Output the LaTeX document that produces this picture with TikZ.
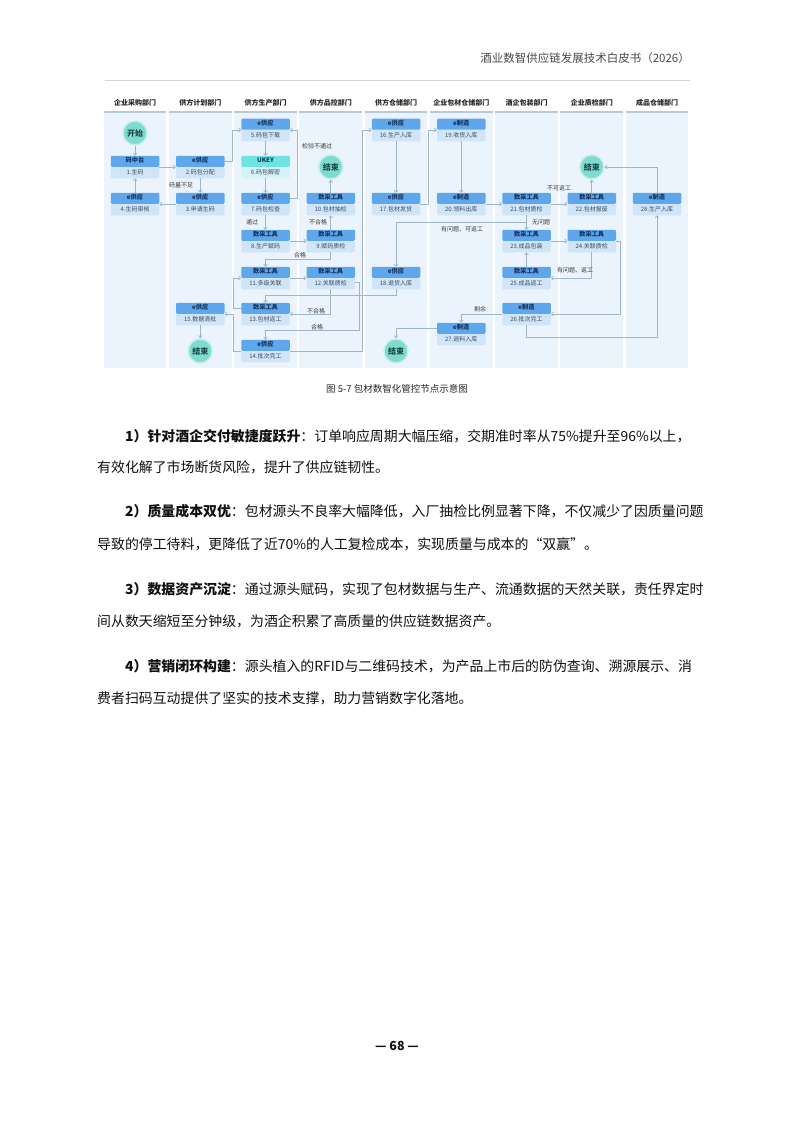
\documentclass[tikz,border=0pt]{standalone}
\usepackage{fontspec}
\setmainfont{Noto Sans CJK SC}
\usetikzlibrary{arrows.meta,calc}
\definecolor{hdblue}{HTML}{5EA7EC}
\definecolor{hdtext}{HTML}{16335C}
\definecolor{bdblue}{HTML}{D1E5F8}
\definecolor{bdtext}{HTML}{3A4B60}
\definecolor{ukhd}{HTML}{6FE3E3}
\definecolor{ukbd}{HTML}{D5F2F5}
\definecolor{lanefill}{HTML}{EBF4FC}
\definecolor{laneline}{HTML}{B7CAD5}
\definecolor{termfill}{HTML}{7FDBD0}
\definecolor{termring}{HTML}{C6EFEA}
\definecolor{termtext}{HTML}{1C4A48}
\definecolor{conc}{HTML}{9FB5CA}
\definecolor{lbltext}{HTML}{3A3A3A}
\definecolor{hdrtext}{HTML}{4A4A4A}
\definecolor{rulec}{HTML}{D4D4D4}
\definecolor{bodytext}{HTML}{111111}
\definecolor{captext}{HTML}{2A2A2A}
\newcommand{\fnode}[6][n]{%
  \node[nbox] (#2) at (#3,#4) {};
  \node[#1body, anchor=south] (#2b) at (#2.south) {#6};
  \node[#1head, anchor=north] (#2h) at (#2.north) {#5};
}
\tikzset{
  nbox/.style={minimum width=48.5pt, minimum height=22.5pt, inner sep=0pt, outer sep=0pt},
  nodetxt/.style={inner sep=0pt, outer sep=0pt, minimum width=48.5pt, text height=4.3pt, text depth=1pt},
  nhead/.style={nodetxt, fill=hdblue, minimum height=11pt, font=\fontsize{6.2}{6.2}\selectfont\bfseries, text=hdtext, rounded corners=1.2pt},
  nbody/.style={nodetxt, fill=bdblue, minimum height=11.5pt, font=\fontsize{6}{6}\selectfont, text=bdtext, rounded corners=1.2pt},
  ukhead/.style={nhead, fill=ukhd},
  ukbody/.style={nbody, fill=ukbd},
  term/.style={circle, fill=termfill, draw=termring, line width=1.5pt, minimum size=24pt, inner sep=0pt, font=\fontsize{8}{8}\selectfont\bfseries, text=termtext},
  lbl/.style={font=\fontsize{6}{6}\selectfont, text=lbltext, inner sep=0.5pt},
  con/.style={draw=conc, line width=0.7pt, -{Straight Barb[length=2.2pt,width=3.8pt]}},
  lanehd/.style={font=\fontsize{7}{7}\selectfont\bfseries, text=black!85, inner sep=0pt},
  para/.style={anchor=west, inner sep=0pt, font=\fontsize{13.9}{16}\selectfont, text=bodytext},
}
\begin{document}
\begin{tikzpicture}[x=1pt,y=-1pt]
\useasboundingbox (0,0) rectangle (793,1121);
\fill[white] (0,0) rectangle (793,1121);
% page header
\node[anchor=east, font=\fontsize{11.5}{12}\selectfont, text=hdrtext, inner sep=0pt] (title) at (690,58) {酒业数智供应链发展技术白皮书（2026）};
\draw[draw=rulec, line width=0.6pt] (105,80) -- (690,80);
% lanes
\foreach \i/\t in {1/企业采购部门,2/供方计划部门,3/供方生产部门,4/供方品控部门,5/供方仓储部门,6/企业包材仓储部门,7/酒企包装部门,8/企业质检部门,9/成品仓储部门}{
  \pgfmathsetmacro\cx{135+65.25*(\i-1)}
  \fill[lanefill] (\cx-31.3,113) rectangle (\cx+31.3,368);
  \draw[laneline, line width=1.3pt] (\cx-31.3,112) -- (\cx+31.3,112);
  \node[lanehd] (lh\i) at (\cx,103) {\t};
}
\def\xA{135}\def\xB{200.25}\def\xC{265.5}\def\xD{330.75}\def\xE{396}\def\xF{461.25}\def\xG{526.5}\def\xH{591.75}\def\xI{657}
\def\rA{130}\def\rB{167}\def\rC{204}\def\rD{241}\def\rE{278}\def\rF{314}\def\rG{351}
% nodes
\node[term] (start) at (\xA,133) {开始};
\fnode{n1}{\xA}{\rB}{码中台}{1.生码}
\fnode{n2}{\xB}{\rB}{e供应}{2.码包分配}
\fnode{n3}{\xB}{\rC}{e供应}{3.申请生码}
\fnode{n4}{\xA}{\rC}{e供应}{4.生码审核}
\fnode{n5}{\xC}{\rA}{e供应}{5.码包下载}
\fnode[uk]{n6}{\xC}{\rB}{UKEY}{6.码包解密}
\fnode{n7}{\xC}{\rC}{e供应}{7.码包检查}
\fnode{n8}{\xC}{\rD}{数采工具}{8.生产赋码}
\fnode{n9}{\xD}{\rD}{数采工具}{9.赋码质检}
\fnode{n10}{\xD}{\rC}{数采工具}{10.包材抽检}
\node[term] (end1) at (\xD,\rB) {结束};
\fnode{n11}{\xC}{\rE}{数采工具}{11.多级关联}
\fnode{n12}{\xD}{\rE}{数采工具}{12.关联质检}
\fnode{n13}{\xC}{\rF}{数采工具}{13.包材返工}
\fnode{n14}{\xC}{\rG}{e供应}{14.批次完工}
\fnode{n15}{\xB}{\rF}{e供应}{15.数据清批}
\node[term] (end2) at (\xB,\rG) {结束};
\fnode{n16}{\xE}{\rA}{e供应}{16.生产入库}
\fnode{n17}{\xE}{\rC}{e供应}{17.包材发货}
\fnode{n18}{\xE}{\rE}{e供应}{18.退货入库}
\node[term] (end3) at (\xE,\rG) {结束};
\fnode{n19}{\xF}{\rA}{e制造}{19.收货入库}
\fnode{n20}{\xF}{\rC}{e制造}{20.领料出库}
\fnode{n27}{\xF}{334}{e制造}{27.退料入库}
\fnode{n21}{\xG}{\rC}{数采工具}{21.包材质检}
\fnode{n23}{\xG}{\rD}{数采工具}{23.成品包装}
\fnode{n25}{\xG}{\rE}{数采工具}{25.成品返工}
\fnode{n26}{\xG}{\rF}{e制造}{26.批次完工}
\fnode{n22}{\xH}{\rC}{数采工具}{22.包材报废}
\fnode{n24}{\xH}{\rD}{数采工具}{24.关联质检}
\node[term] (end4) at (\xH,\rB) {结束};
\fnode{n28}{\xI}{\rC}{e制造}{28.生产入库}
% connectors
\draw[con] (start) -- (n1);
\draw[con] (n1) -- (n2);
\draw[con] (n2) -- (n3);
\draw[con] (n3) -- (n4);
\draw[con] (n4) -- (n1);
\draw[con] ([yshift=5.5pt]n2.east) -- ++(8,0) |- (n5.west);
\draw[con] (n5) -- (n6);
\draw[con] (n6) -- (n7);
\draw[con] ([yshift=5.5pt]n7.east) -- ++(8,0) |- (n5.east);
\draw[con] (n7) -- (n8);
\draw[con] (n8) -- (n9);
\draw[con] (n9) -- (n10);
\draw[con] (n10) -- (end1);
\draw[con] (n9.south) -- ++(0,7) -| (n11.north);
\draw[con] (n11) -- (n12);
\draw[con] (n12.south) |- (n13.east);
\draw[con] ([yshift=-4pt]n12.east) -- ++(4,0) |- ($(n14.north)+(0,-9)$) -- (n14.north);
\draw[con] ([yshift=5.5pt]n13.west) -- ++(-8,0) |- (n11.west);
\draw[con] (n14.west) -- ++(-8,0) |- (n15.east);
\draw[con] (n15) -- (end2);
\draw[con] (n14.east) -| ($(n16.west)+(-9,0)$) -- (n16.west);
\draw[con] (n16) -- (n17);
\draw[con] (n17.east) -- ++(8,0) |- (n19.west);
\draw[con] (n18.south) -- ++(0,6.5) -| (n13.north);
\draw[con] (n19) -- (n20);
\draw[con] (n20) -- (n21);
\draw[con] (n21) -- (n23);
\draw[con] (n21.south) -- ++(0,7.5) -| (n18.north);
\draw[con] (n21) -- (n22);
\draw[con] (n22) -- (end4);
\draw[con] (n28.north) |- (end4.east);
\draw[con] (n23) -- (n24);
\draw[con] (n24.south) |- (n25.east);
\draw[con] (n25) -- (n23);
\draw[con] (n24.east) -- ++(4,0) |- (n26.east);
\draw[con] (n26.west) -| (n27.north);
\draw[con] (n26.south) -- ++(0,12) -| (n28.south);
\draw[con] ([yshift=5.5pt]n27.west) -| (end3.north);
% labels
\node[lbl] (l1) at (181,185) {码量不足};
\node[lbl] (l2) at (252,222) {通过};
\node[lbl] (l3) at (317,146) {检验不通过};
\node[lbl] (l4) at (318,222) {不合格};
\node[lbl] (l5) at (300,255) {合格};
\node[lbl] (l6) at (316,311) {不合格};
\node[lbl] (l7) at (317,327) {合格};
\node[lbl] (l8) at (462,229) {有问题、可返工};
\node[lbl] (l9) at (541,222) {无问题};
\node[lbl] (l10) at (559,188) {不可返工};
\node[lbl] (l11) at (575,270) {有问题、返工};
\node[lbl] (l12) at (480,309) {剩余};
% caption
\node[font=\fontsize{9.5}{10}\selectfont, text=captext, inner sep=0pt] (cap) at (397,389) {图 5-7 包材数智化管控节点示意图};
% body text
\node[para] (p1a) at (125,436) {\textbf{1）针对酒企交付敏捷度跃升}：订单响应周期大幅压缩，交期准时率从75\%提升至96\%以上，};
\node[para] (p1b) at (97,467) {有效化解了市场断货风险，提升了供应链韧性。};
\node[para] (p2a) at (125,511) {\textbf{2）质量成本双优}：包材源头不良率大幅降低，入厂抽检比例显著下降，不仅减少了因质量问题};
\node[para] (p2b) at (97,544) {导致的停工待料，更降低了近70\%的人工复检成本，实现质量与成本的“双赢”。};
\node[para] (p3a) at (125,589) {\textbf{3）数据资产沉淀}：通过源头赋码，实现了包材数据与生产、流通数据的天然关联，责任界定时};
\node[para] (p3b) at (97,621) {间从数天缩短至分钟级，为酒企积累了高质量的供应链数据资产。};
\node[para] (p4a) at (125,666) {\textbf{4）营销闭环构建}：源头植入的RFID与二维码技术，为产品上市后的防伪查询、溯源展示、消};
\node[para] (p4b) at (97,698) {费者扫码互动提供了坚实的技术支撑，助力营销数字化落地。};
% page number
\node[font=\fontsize{12.5}{13}\selectfont\bfseries, text=bodytext, inner sep=0pt] (pg) at (397,1046) {— 68 —};
\end{tikzpicture}
\end{document}
